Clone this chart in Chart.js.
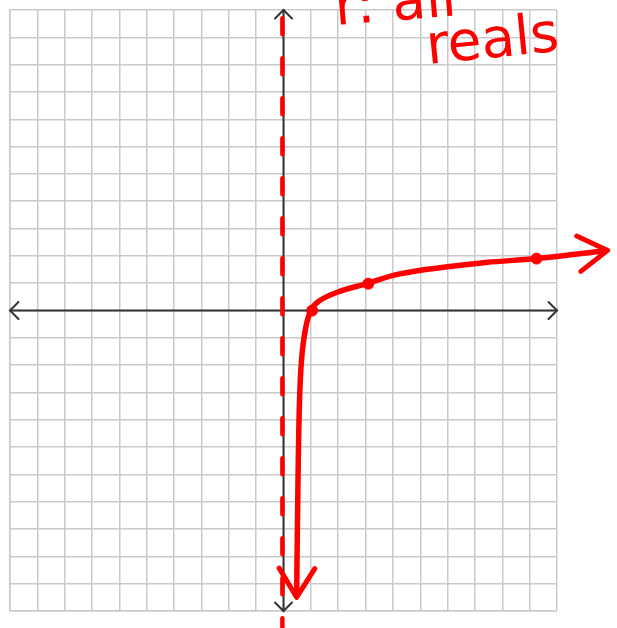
<!DOCTYPE html>
<html>
<head>
<meta charset="utf-8">
<script src="https://cdn.jsdelivr.net/npm/chart.js@4"></script>
<style>
  html, body { margin: 0; padding: 0; background: #fff; }
  #wrap { width: 617px; height: 628px; }
</style>
</head>
<body>
<div id="wrap"><canvas id="graph" width="617" height="628"></canvas></div>
<script>
// window of the grid
const xRange = [-10, 10];
const yRange = [-11, 11];

// hand drawn curve y = log3(x), bottom to top
const curveX = [0.48, 0.52, 0.58, 0.66, 0.8, 1.0, 1.3, 2.05, 3.1, 4.2, 6.0, 7.4, 9.25, 11.85];
const curveY = [-10.5, -7.0, -3.5, -1.8, -0.7, 0.0, 0.35, 0.7, 1.0, 1.33, 1.6, 1.76, 1.9, 2.2];

// plotted points
const dotX = [1.05, 3.1, 9.25];
const dotY = [0.0, 0.98, 1.9];

// asymptote x = 0
const asymX = [-0.04, -0.04];
const asymY = [10.7, -11.6];

const RED = '#ff0000';

function pts(xs, ys) {
	return xs.map((x, i) => ({ x: x, y: ys[i] }));
}

function chevron(ctx, tx, ty, ang, len, spread) {
	ctx.beginPath();
	ctx.moveTo(tx + len * Math.cos(ang + spread), ty + len * Math.sin(ang + spread));
	ctx.lineTo(tx, ty);
	ctx.lineTo(tx + len * Math.cos(ang - spread), ty + len * Math.sin(ang - spread));
	ctx.stroke();
}

// black axes with arrow tips, under the datasets
const axesPlugin = {
	id: 'axes',
	beforeDatasetsDraw(chart) {
		const { ctx, chartArea: a, scales } = chart;
		const x0 = scales.x.getPixelForValue(0);
		const y0 = scales.y.getPixelForValue(0);
		ctx.save();
		ctx.strokeStyle = '#333';
		ctx.lineWidth = 2;
		ctx.lineCap = 'round';
		ctx.beginPath();
		ctx.moveTo(a.left, y0); ctx.lineTo(a.right, y0);
		ctx.moveTo(x0, a.top); ctx.lineTo(x0, a.bottom);
		ctx.stroke();
		const s = Math.PI / 4;
		chevron(ctx, a.left, y0, 0, 12, s);
		chevron(ctx, a.right, y0, Math.PI, 12, s);
		chevron(ctx, x0, a.top, Math.PI / 2, 12, s);
		chevron(ctx, x0, a.bottom, -Math.PI / 2, 12, s);
		ctx.restore();
	}
};

// red arrow tips on the curve ends and the range note
const notesPlugin = {
	id: 'notes',
	afterDatasetsDraw(chart) {
		const { ctx } = chart;
		const meta = chart.getDatasetMeta(0).data;
		ctx.save();
		ctx.strokeStyle = RED;
		ctx.lineWidth = 5;
		ctx.lineCap = 'round';
		ctx.lineJoin = 'round';
		const ends = [[meta[0], meta[1]], [meta[meta.length - 1], meta[meta.length - 2]]];
		ends.forEach(([tip, prev]) => {
			const ang = Math.atan2(prev.y - tip.y, prev.x - tip.x);
			chevron(ctx, tip.x, tip.y, ang, 34, 0.55);
		});
		ctx.restore();

		ctx.save();
		ctx.fillStyle = RED;
		ctx.font = '55px "DejaVu Sans"';
		ctx.translate(428, 64);
		ctx.rotate(-0.1);
		ctx.fillText('reals', 0, 0);
		ctx.restore();

		ctx.save();
		ctx.fillStyle = RED;
		ctx.font = '55px "DejaVu Sans"';
		ctx.translate(336, 25);
		ctx.rotate(-0.08);
		ctx.fillText('r: all', 0, 0);
		ctx.restore();
	}
};

new Chart(document.getElementById('graph'), {
	type: 'scatter',
	data: {
		datasets: [{
			data: pts(curveX, curveY),
			showLine: true,
			borderColor: RED,
			borderWidth: 5.5,
			tension: 0.4,
			pointRadius: 0,
			clip: false,
			order: 1
		}, {
			data: pts(dotX, dotY),
			backgroundColor: RED,
			borderColor: RED,
			pointRadius: 5.5,
			order: 0
		}, {
			data: pts(asymX, asymY),
			showLine: true,
			borderColor: RED,
			borderWidth: 4.5,
			borderDash: [16, 24],
			borderCapStyle: 'round',
			pointRadius: 0,
			clip: false,
			order: 2
		}]
	},
	options: {
		responsive: false,
		animation: false,
		layout: { padding: { left: 10, top: 10, right: 60, bottom: 17 } },
		plugins: {
			legend: { display: false },
			tooltip: { enabled: false }
		},
		scales: {
			x: {
				min: xRange[0], max: xRange[1],
				ticks: { display: false, stepSize: 1 },
				grid: { color: '#cacaca', lineWidth: 1.5, drawTicks: false },
				border: { color: '#cacaca', width: 1.5 }
			},
			y: {
				min: yRange[0], max: yRange[1],
				ticks: { display: false, stepSize: 1 },
				grid: { color: '#cacaca', lineWidth: 1.5, drawTicks: false },
				border: { color: '#cacaca', width: 1.5 }
			}
		}
	},
	plugins: [axesPlugin, notesPlugin]
});
</script>
</body>
</html>
